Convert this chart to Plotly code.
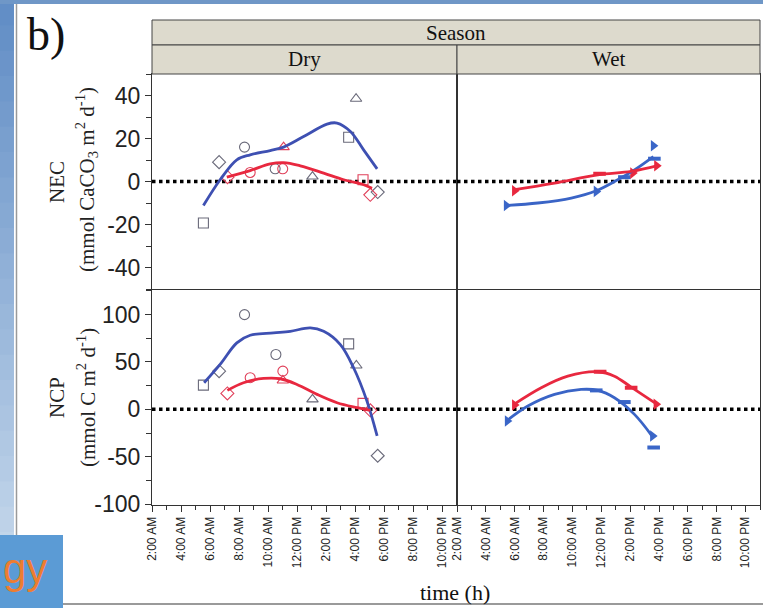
import plotly.graph_objects as go

# ---------------- data ----------------
tick_hours = [2, 4, 6, 8, 10, 12, 14, 16, 18, 20, 22]
tick_labels = ["2:00 AM", "4:00 AM", "6:00 AM", "8:00 AM", "10:00 AM", "12:00 PM",
               "2:00 PM", "4:00 PM", "6:00 PM", "8:00 PM", "10:00 PM"]
seasons = ["Dry", "Wet"]
variables = ["NEC", "NCP"]
nec_ticks = [-40, -20, 0, 20, 40]
nec_tick_labels = ["-40", "-20", "0", "20", "40"]
ncp_ticks = [-100, -50, 0, 50, 100]
ncp_tick_labels = ["-100", "-50", "0", "50", "100"]

# observed points: time (h), value, group, sampling
dry_nec_t = [5.54, 6.62, 8.37, 10.48, 13.05, 15.54, 16.05, 17.54, 7.2, 8.76, 11.0, 11.06, 16.53, 17.03]
dry_nec_v = [-19.3, 9.0, 16.0, 5.9, 2.3, 20.6, 38.5, -4.9, 2.0, 4.2, 5.9, 16.0, 0.8, -6.2]
dry_nec_g = ["A"] * 8 + ["B"] * 6
dry_nec_s = ["S1", "S2", "S3", "S3", "S4", "S1", "S4", "S2", "S2", "S3", "S3", "S4", "S1", "S2"]

dry_ncp_t = [5.54, 6.62, 8.37, 10.53, 13.05, 15.54, 16.07, 17.54, 7.19, 8.76, 11.01, 11.01, 16.53, 17.03]
dry_ncp_v = [25.6, 40.3, 100, 57.9, 10.5, 69.1, 46.3, -49, 16.8, 33.4, 40.3, 30.5, 6.3, -1]
dry_ncp_g = ["A"] * 8 + ["B"] * 6
dry_ncp_s = ["S1", "S2", "S3", "S3", "S4", "S1", "S4", "S2", "S2", "S3", "S3", "S4", "S1", "S2"]

wet_nec_t = [5.42, 11.65, 13.6, 15.61, 15.68, 5.99, 11.88, 14.18, 15.84]
wet_nec_v = [-11.2, -4.6, 2.0, 16.6, 10.6, -4.3, 3.6, 3.9, 7.3]
wet_nec_g = ["A"] * 5 + ["B"] * 4
wet_nec_s = ["S5", "S5", "S6", "S5", "S6", "S5", "S6", "S5", "S5"]

wet_ncp_t = [5.49, 11.65, 13.6, 15.56, 15.63, 5.99, 11.92, 14.07, 15.8]
wet_ncp_v = [-12.3, 20, 7.7, -28.1, -40.3, 4.5, 39.7, 22.8, 5.3]
wet_ncp_g = ["A"] * 5 + ["B"] * 4
wet_ncp_s = ["S5", "S6", "S6", "S5", "S6", "S5", "S6", "S6", "S5"]

# smoother fits
dry_nec_fitA_t = [5.54, 6.69, 7.84, 8.76, 10.14, 11.06, 12.44, 14.05, 14.74, 15.66, 16.57, 17.5]
dry_nec_fitA_v = [-11.2, 0.8, 10.1, 12.4, 14.4, 16.0, 20.9, 26.7, 27.2, 23.3, 14.7, 5.9]
dry_nec_fitB_t = [7.15, 8.76, 10.14, 11.06, 12.21, 13.82, 15.2, 16.57, 17.15]
dry_nec_fitB_v = [2.0, 5.1, 8.2, 8.8, 7.3, 3.9, 0.8, -1.5, -3.1]

dry_ncp_fitA_t = [5.59, 6.69, 7.84, 8.76, 10.37, 11.52, 12.9, 13.82, 14.97, 15.88, 16.8, 17.5]
dry_ncp_fitA_v = [28.1, 47.4, 70.2, 78.2, 80.7, 82.4, 86, 82.4, 68.4, 43.9, 8.7, -28.1]
dry_ncp_fitB_t = [7.19, 8.3, 9.68, 10.83, 11.98, 13.36, 14.74, 16.12, 17.03]
dry_ncp_fitB_v = [20, 28.1, 32.6, 32.3, 26.3, 15.8, 7, 1.8, -1]

wet_nec_fitA_t = [5.42, 7.6, 9.92, 11.65, 13.14, 14.3, 15.61]
wet_nec_fitA_v = [-11.2, -10, -7.7, -4.3, 0.8, 5.4, 11.6]
wet_nec_fitB_t = [5.88, 8.76, 11.76, 14.07, 15.91]
wet_nec_fitB_v = [-3.9, -0.7, 3.1, 4.7, 7.4]

wet_ncp_fitA_t = [5.42, 6.91, 8.76, 10.6, 11.76, 12.91, 14.3, 15.56]
wet_ncp_fitA_v = [-12.3, 3.5, 15.8, 21, 20, 12.3, -5.3, -29]
wet_ncp_fitB_t = [5.95, 7.84, 9.68, 11.76, 12.91, 14.07, 15.87]
wet_ncp_fitB_v = [5.3, 22.8, 35, 39.7, 35, 23.5, 5.3]

# ---------------- styles ----------------
W, H = 763, 608
def PX(x): return x / W
def PY(y): return 1 - y / H

SERIF = "Liberation Serif"
SANS = "Liberation Sans"

sym_map = {"S1": "square-open", "S2": "diamond-open", "S3": "circle-open",
           "S4": "triangle-up-open", "S5": "triangle-right", "S6": "line-ew"}
dry_col = {"A": "#6A6A7A", "B": "#E0405A"}
wet_col = {"A": "#3A66C8", "B": "#E8283F"}
line_col = {"Dry": {"A": "#3E50B2", "B": "#E8283F"}, "Wet": {"A": "#3A64C6", "B": "#E8283F"}}

col_dom = {"Dry": [PX(152), PX(457)], "Wet": [PX(457), PX(760)]}
row_dom = {"NEC": [PY(289), PY(74)], "NCP": [PY(505), PY(290)]}
y_rng = {"NEC": [-50, 50], "NCP": [-101, 126]}
y_ticks = {"NEC": (nec_ticks, nec_tick_labels), "NCP": (ncp_ticks, ncp_tick_labels)}
y_minor = {"NEC": 10, "NCP": 25}

panels = {
    ("NEC", "Dry"): (dry_nec_t, dry_nec_v, dry_nec_g, dry_nec_s,
                     (dry_nec_fitA_t, dry_nec_fitA_v), (dry_nec_fitB_t, dry_nec_fitB_v)),
    ("NEC", "Wet"): (wet_nec_t, wet_nec_v, wet_nec_g, wet_nec_s,
                     (wet_nec_fitA_t, wet_nec_fitA_v), (wet_nec_fitB_t, wet_nec_fitB_v)),
    ("NCP", "Dry"): (dry_ncp_t, dry_ncp_v, dry_ncp_g, dry_ncp_s,
                     (dry_ncp_fitA_t, dry_ncp_fitA_v), (dry_ncp_fitB_t, dry_ncp_fitB_v)),
    ("NCP", "Wet"): (wet_ncp_t, wet_ncp_v, wet_ncp_g, wet_ncp_s,
                     (wet_ncp_fitA_t, wet_ncp_fitA_v), (wet_ncp_fitB_t, wet_ncp_fitB_v)),
}

fig = go.Figure()
layout = {}
idx = 0
for var in variables:
    for season in seasons:
        idx += 1
        xa = "x" if idx == 1 else f"x{idx}"
        ya = "y" if idx == 1 else f"y{idx}"
        t, v, g, s, fitA, fitB = panels[(var, season)]
        # zero reference line
        fig.add_trace(go.Scatter(x=[2, 23], y=[0, 0], mode="lines", xaxis=xa, yaxis=ya,
                                 line=dict(color="black", width=3.5, dash="dot"),
                                 showlegend=False, hoverinfo="skip"))
        cmap = dry_col if season == "Dry" else wet_col
        for grp in ["A", "B"]:
            for samp in sorted(set(s)):
                xs = [t[i] for i in range(len(t)) if g[i] == grp and s[i] == samp]
                vs = [v[i] for i in range(len(t)) if g[i] == grp and s[i] == samp]
                if not xs:
                    continue
                sym = sym_map[samp]
                if sym == "line-ew":
                    mk = dict(symbol=sym, size=9, line=dict(color=cmap[grp], width=4))
                elif sym.endswith("open"):
                    mk = dict(symbol=sym, size=10, color=cmap[grp], line=dict(color=cmap[grp], width=1.1))
                else:
                    mk = dict(symbol=sym, size=10, color=cmap[grp], line=dict(width=0))
                fig.add_trace(go.Scatter(x=xs, y=vs, mode="markers", xaxis=xa, yaxis=ya,
                                         marker=mk, showlegend=False))
        for grp, fit in [("A", fitA), ("B", fitB)]:
            fig.add_trace(go.Scatter(x=fit[0], y=fit[1], mode="lines", xaxis=xa, yaxis=ya,
                                     line=dict(color=line_col[season][grp], width=2.8,
                                               shape="spline", smoothing=1.0),
                                     showlegend=False))
        bottom = var == "NCP"
        left = season == "Dry"
        layout["xaxis" if idx == 1 else f"xaxis{idx}"] = dict(
            domain=col_dom[season], anchor=ya, range=[2, 23], automargin=False,
            showline=True, mirror=True, linecolor="#333", linewidth=1,
            showgrid=False, zeroline=False,
            tickmode="array", tickvals=tick_hours, ticktext=tick_labels,
            showticklabels=bottom, ticks="outside" if bottom else "",
            ticklen=6, tickcolor="#333", tickangle=-90,
            tickfont=dict(family=SANS, size=12, color="#222"),
            minor=dict(dtick=1, tick0=0, ticks="outside" if bottom else "", ticklen=4, tickcolor="#333"),
        )
        layout["yaxis" if idx == 1 else f"yaxis{idx}"] = dict(
            domain=row_dom[var], anchor=xa, range=y_rng[var], automargin=False,
            showline=True, mirror=True, linecolor="#333", linewidth=1,
            showgrid=False, zeroline=False,
            tickmode="array", tickvals=y_ticks[var][0], ticktext=y_ticks[var][1],
            showticklabels=left, ticks="outside" if left else "",
            ticklen=6, tickcolor="#333",
            tickfont=dict(family=SANS, size=23, color="#222"),
            minor=dict(dtick=y_minor[var], tick0=0, ticks="outside" if left else "", ticklen=5, tickcolor="#333"),
        )

shapes = []
# slide decorations: left gradient strip, top strip, frame lines, footer box
n = 24
for i in range(n):
    f = i / (n - 1)
    r = int(0x62 + (0xCC - 0x62) * f)
    gc = int(0x8E + (0xDD - 0x8E) * f)
    b = int(0xC6 + (0xEE - 0xC6) * f)
    shapes.append(dict(type="rect", xref="paper", yref="paper", x0=0, x1=PX(14),
                       y0=PY(i * H / n + H / n + 1), y1=PY(i * H / n), line=dict(width=0),
                       fillcolor=f"rgb({r},{gc},{b})", layer="below"))
shapes.append(dict(type="rect", xref="paper", yref="paper", x0=0, x1=1, y0=PY(4), y1=1,
                   line=dict(width=0), fillcolor="#6F97C7", layer="below"))
shapes.append(dict(type="line", xref="paper", yref="paper", x0=PX(16.5), x1=PX(16.5), y0=0, y1=PY(4),
                   line=dict(color="#9A9A9A", width=1.5)))
shapes.append(dict(type="line", xref="paper", yref="paper", x0=PX(60), x1=1, y0=PY(604), y1=PY(604),
                   line=dict(color="#9A9A9A", width=2)))
shapes.append(dict(type="rect", xref="paper", yref="paper", x0=0, x1=PX(63), y0=0, y1=PY(535),
                   line=dict(width=0), fillcolor="#5B9BD5"))
# facet header strips
shapes.append(dict(type="rect", xref="paper", yref="paper", x0=PX(152), x1=PX(760), y0=PY(45), y1=PY(20),
                   line=dict(color="#444", width=1), fillcolor="#DDDACD"))
for season in seasons:
    shapes.append(dict(type="rect", xref="paper", yref="paper", x0=col_dom[season][0], x1=col_dom[season][1],
                       y0=PY(74), y1=PY(45), line=dict(color="#444", width=1), fillcolor="#DDDACD"))


def ann(text, x, y, size, family=SERIF, color="#111", angle=0, xanchor="center"):
    return dict(text=text, x=PX(x), y=PY(y), xref="paper", yref="paper", showarrow=False,
                xanchor=xanchor, yanchor="middle", textangle=angle,
                font=dict(family=family, size=size, color=color))


annotations = [
    ann("Season", 456, 33, 21),
    ann("Dry", 304.5, 59, 21),
    ann("Wet", 608.5, 59, 21),
    ann("b)", 46, 34, 46),
    ann("time (h)", 455, 592, 22),
    ann("NEC", 57, 182, 21, color="#222", angle=-90),
    ann("(mmol CaCO<sub>3</sub> m<sup>2</sup> d<sup>-1</sup>)", 86, 180, 21, color="#222", angle=-90),
    ann("NCP", 57, 398, 21, color="#222", angle=-90),
    ann("(mmol C m<sup>2</sup> d<sup>-1</sup>)", 86, 398, 21, color="#222", angle=-90),
    ann("gy", 1, 568, 42, family=SANS, color="#ED7D31", xanchor="left"),
]

fig.update_layout(
    width=W, height=H, autosize=False, margin=dict(l=0, r=0, t=0, b=0, pad=0),
    paper_bgcolor="white", plot_bgcolor="white",
    shapes=shapes, annotations=annotations, showlegend=False,
    **layout,
)
fig.write_html("out.html")
